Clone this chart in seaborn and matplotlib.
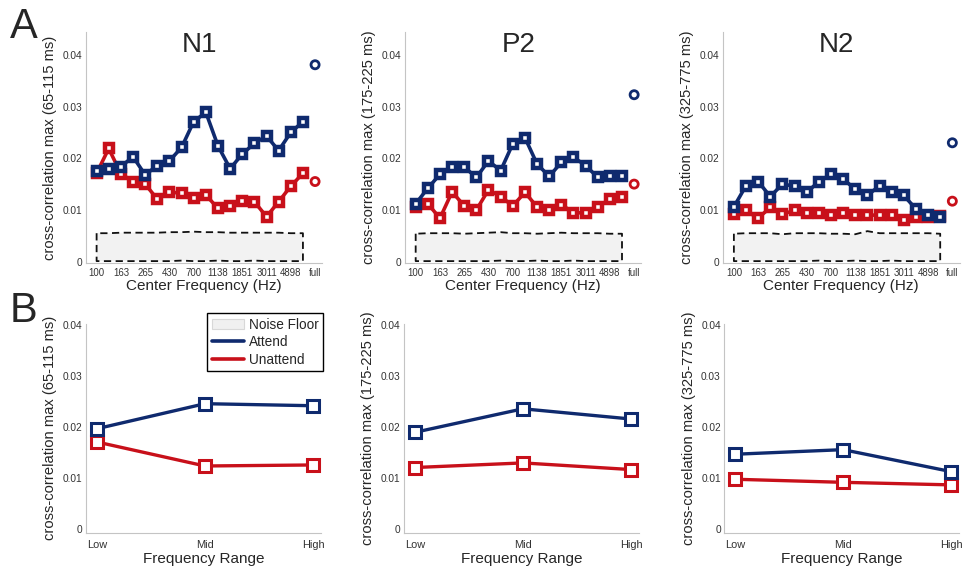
import numpy as np
import pandas as pd
import matplotlib
matplotlib.use("Agg")
import matplotlib.pyplot as plt
from matplotlib.lines import Line2D
from matplotlib.patches import Patch
from matplotlib.ticker import MultipleLocator
import seaborn as sns

# ---- data ----
band_labels = ["100", "163", "265", "430", "700", "1138", "1851", "3011", "4898"]
components = ["N1", "P2", "N2"]
ylabels = ["cross-correlation max (65-115 ms)",
           "cross-correlation max (175-225 ms)",
           "cross-correlation max (325-775 ms)"]

n1_attend = [0.0176, 0.0179, 0.0184, 0.0203, 0.0168, 0.0186, 0.0195, 0.0221, 0.0271,
             0.0289, 0.0224, 0.0180, 0.0208, 0.0229, 0.0243, 0.0215, 0.0250, 0.0271]
n1_unattend = [0.0171, 0.0219, 0.0170, 0.0155, 0.0150, 0.0121, 0.0135, 0.0132, 0.0123,
               0.0129, 0.0103, 0.0108, 0.0117, 0.0116, 0.0087, 0.0116, 0.0146, 0.0171]
p2_attend = [0.0112, 0.0142, 0.0169, 0.0184, 0.0183, 0.0163, 0.0195, 0.0176, 0.0228,
             0.0240, 0.0189, 0.0165, 0.0192, 0.0202, 0.0186, 0.0163, 0.0166, 0.0166]
p2_unattend = [0.0106, 0.0112, 0.0084, 0.0135, 0.0108, 0.0100, 0.0139, 0.0126, 0.0108,
               0.0134, 0.0106, 0.0099, 0.0110, 0.0095, 0.0094, 0.0106, 0.0121, 0.0126]
n2_attend = [0.0106, 0.0147, 0.0155, 0.0126, 0.0150, 0.0146, 0.0134, 0.0155, 0.0169,
             0.0160, 0.0140, 0.0128, 0.0147, 0.0134, 0.0128, 0.0102, 0.0090, 0.0086]
n2_unattend = [0.0092, 0.0099, 0.0084, 0.0105, 0.0092, 0.0099, 0.0094, 0.0094, 0.0090,
               0.0095, 0.0090, 0.0090, 0.0090, 0.0090, 0.0081, 0.0087, 0.0086, 0.0089]

full_attend = [0.0381, 0.0323, 0.0230]
full_unattend = [0.0155, 0.0150, 0.0117]

noise_top = [
    [0.0055, 0.0055, 0.0056, 0.0056, 0.0056, 0.0056, 0.0057, 0.0057, 0.0058,
     0.0057, 0.0057, 0.0056, 0.0056, 0.0056, 0.0056, 0.0056, 0.0055, 0.0055],
    [0.0054, 0.0055, 0.0055, 0.0055, 0.0054, 0.0055, 0.0056, 0.0057, 0.0055,
     0.0055, 0.0054, 0.0055, 0.0056, 0.0055, 0.0055, 0.0055, 0.0054, 0.0054],
    [0.0054, 0.0055, 0.0055, 0.0055, 0.0053, 0.0055, 0.0055, 0.0055, 0.0054,
     0.0054, 0.0053, 0.0059, 0.0055, 0.0055, 0.0055, 0.0055, 0.0055, 0.0054],
]
noise_bottom = [0.0001, 0.0001, 0.0001, 0.0001, 0.0001, 0.0001, 0.0001, 0.0002, 0.0001,
                0.0001, 0.0002, 0.0001, 0.0001, 0.0002, 0.0001, 0.0001, 0.0001, 0.0001]

ranges = ["Low", "Mid", "High"]
range_attend = [[0.0197, 0.0246, 0.0242], [0.0190, 0.0236, 0.0216], [0.0147, 0.0156, 0.0113]]
range_unattend = [[0.0171, 0.0124, 0.0126], [0.0121, 0.0130, 0.0117], [0.0098, 0.0092, 0.0087]]

band_attend = [n1_attend, p2_attend, n2_attend]
band_unattend = [n1_unattend, p2_unattend, n2_unattend]

NAVY = "#0f2a6e"
RED = "#c8101a"
SPINE = "#c4c4c4"
TXT = "#333333"

sns.set_style("white")
plt.rcParams["font.family"] = ["Liberation Sans", "DejaVu Sans"]

fig = plt.figure(figsize=(9.66, 5.72), dpi=100)

top_lefts = [0.0887, 0.419, 0.7484]
bot_lefts = [0.0892, 0.4184, 0.7498]


def style_axis(ax):
    for s in ["top", "right"]:
        ax.spines[s].set_visible(False)
    for s in ["left", "bottom"]:
        ax.spines[s].set_color(SPINE)
        ax.spines[s].set_linewidth(0.8)
    ax.tick_params(which="both", direction="in", color=SPINE, labelcolor=TXT)
    ax.tick_params(which="major", length=3.5, width=0.8, pad=2.5)
    ax.tick_params(which="minor", length=2, width=0.8)


for i, comp in enumerate(components):
    # ---- row A: per frequency band ----
    ax = fig.add_axes([top_lefts[i], 0.5399, 0.245, 0.4047])
    idx = np.arange(len(band_attend[i]))
    ax.fill_between(idx, noise_bottom, noise_top[i], facecolor="#f2f2f2",
                    edgecolor="#111111", linestyle=(0, (4, 2.5)), linewidth=1.3, zorder=1)
    df = pd.DataFrame({"band": np.concatenate([idx, idx]),
                       "xcorr": band_attend[i] + band_unattend[i],
                       "cond": ["Attend"] * len(idx) + ["Unattend"] * len(idx)})
    sns.lineplot(data=df, x="band", y="xcorr", hue="cond", hue_order=["Unattend", "Attend"],
                 palette={"Attend": NAVY, "Unattend": RED}, marker="s", markersize=5.5,
                 markerfacecolor="white", markeredgewidth=3.2, linewidth=2.6,
                 legend=False, ax=ax, zorder=3)
    for line in ax.lines:
        line.set_markeredgecolor(line.get_color())
    full_x = len(idx)
    sns.scatterplot(x=[full_x, full_x], y=[full_attend[i], full_unattend[i]], ax=ax,
                    marker="o", s=34, facecolor="none", edgecolor=[NAVY, RED],
                    linewidth=2.0, legend=False, zorder=4)
    ax.set_xlim(-0.9, 18.6)
    ax.set_ylim(-0.0003, 0.0445)
    ax.set_yticks([0, 0.01, 0.02, 0.03, 0.04])
    ax.set_yticklabels(["0", "0.01", "0.02", "0.03", "0.04"], fontsize=7.3)
    ax.yaxis.set_minor_locator(MultipleLocator(0.005))
    ax.set_xticks(list(range(0, 17, 2)) + [full_x])
    ax.set_xticklabels(band_labels + ["full"], fontsize=6.9)
    style_axis(ax)
    ax.tick_params(axis="x", pad=3.5)
    ax.set_xlabel("Center Frequency (Hz)", fontsize=11, labelpad=0.5)
    ax.set_ylabel(ylabels[i], fontsize=10.6, labelpad=4)
    ax.text(0.48, 0.912, comp, transform=ax.transAxes, ha="center", va="baseline",
            fontsize=20)

    # ---- row B: per frequency range ----
    bx = fig.add_axes([bot_lefts[i], 0.0684, 0.2426, 0.366])
    dfr = pd.DataFrame({"range": ranges * 2,
                        "xcorr": range_attend[i] + range_unattend[i],
                        "cond": ["Attend"] * 3 + ["Unattend"] * 3})
    dfr["pos"] = dfr["range"].map({r: k for k, r in enumerate(ranges)})
    sns.lineplot(data=dfr, x="pos", y="xcorr", hue="cond", hue_order=["Unattend", "Attend"],
                 palette={"Attend": NAVY, "Unattend": RED}, marker="s", markersize=8,
                 markerfacecolor="white", markeredgewidth=2.2, linewidth=2.4,
                 legend=False, ax=bx)
    for line in bx.lines:
        line.set_markeredgecolor(line.get_color())
    bx.set_xlim(-0.1, 2.07)
    bx.set_ylim(-0.0007, 0.0403)
    bx.set_yticks([0, 0.01, 0.02, 0.03, 0.04])
    bx.set_yticklabels(["0", "0.01", "0.02", "0.03", "0.04"], fontsize=7.3)
    bx.set_xticks([0, 1, 2])
    bx.set_xticklabels(ranges, fontsize=7.9)
    style_axis(bx)
    bx.tick_params(axis="x", pad=5)
    bx.set_xlabel("Frequency Range", fontsize=11, labelpad=1.5)
    bx.set_ylabel(ylabels[i], fontsize=10.6, labelpad=4)

    if i == 0:
        handles = [Patch(facecolor="#f0f0f0", edgecolor="#d8d8d8", linewidth=0.8),
                   Line2D([], [], color=NAVY, linewidth=2.6),
                   Line2D([], [], color=RED, linewidth=2.6)]
        leg = bx.legend(handles, ["Noise Floor", "Attend", "Unattend"], loc="upper right",
                        bbox_to_anchor=(0.3344, 0.4528), bbox_transform=fig.transFigure,
                        fontsize=9.8, frameon=True, fancybox=False, framealpha=1,
                        handlelength=2.4, handletextpad=0.3, borderpad=0.35,
                        labelspacing=0.25, borderaxespad=0)
        leg.get_frame().set_edgecolor("black")
        leg.get_frame().set_linewidth(1.0)

fig.text(0.010, 0.9336, "A", fontsize=30, va="baseline", ha="left")
fig.text(0.010, 0.437, "B", fontsize=30, va="baseline", ha="left")

fig.savefig("out.png", dpi=100)
